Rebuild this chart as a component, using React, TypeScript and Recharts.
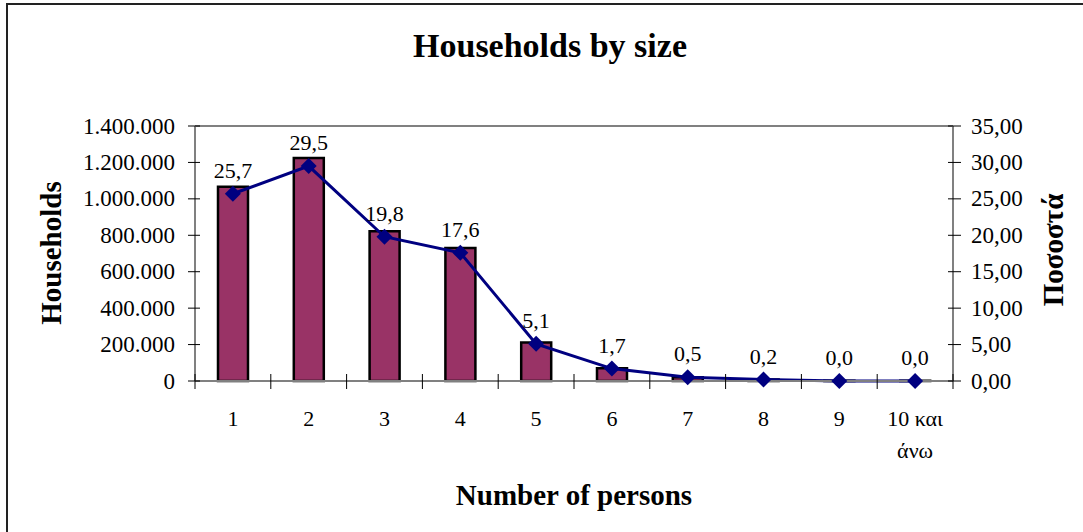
import React from 'react';
import { ComposedChart, Bar, Line, XAxis, YAxis, LabelList, ReferenceLine } from 'recharts';

const categories = ['1', '2', '3', '4', '5', '6', '7', '8', '9', '10 και άνω'];
const households = [1066000, 1224000, 822000, 730000, 212000, 70500, 20700, 8300, 1600, 900];
const percentages = [25.7, 29.5, 19.8, 17.6, 5.1, 1.7, 0.5, 0.2, 0.0, 0.0];
const leftTicks = [0, 200000, 400000, 600000, 800000, 1000000, 1200000, 1400000];
const rightTicks = [0, 5, 10, 15, 20, 25, 30, 35];

const data = categories.map((c, i) => ({ name: c, households: households[i], pct: percentages[i] }));

const W = 1083;
const H = 532;
const LEFT_W = 195;
const RIGHT_W = 130;
const TOP = 126;
const XAXIS_H = 151;
const CAT_W = (W - LEFT_W - RIGHT_W) / categories.length;
const FONT = '"Liberation Serif", "Times New Roman", serif';

const fmtThousands = (v: number) => String(v).replace(/\B(?=(\d{3})+(?!\d))/g, '.');
const fmtPct2 = (v: number) => v.toFixed(2).replace('.', ',');
const fmtPct1 = (v: number) => Number(v).toFixed(1).replace('.', ',');

const LeftTick = (props: any) => {
  const { x, y, payload } = props;
  return (
    <g>
      <line x1={x - 7} x2={x + 5} y1={y} y2={y} stroke="#000" strokeWidth={1} />
      <text x={x - 20} y={y} textAnchor="end" dominantBaseline="central" fontFamily={FONT} fontSize={23} fill="#000">
        {fmtThousands(payload.value)}
      </text>
    </g>
  );
};

const RightTick = (props: any) => {
  const { x, y, payload } = props;
  return (
    <g>
      <line x1={x - 5} x2={x + 8} y1={y} y2={y} stroke="#000" strokeWidth={1} />
      <text x={x + 18} y={y} textAnchor="start" dominantBaseline="central" fontFamily={FONT} fontSize={23} fill="#000">
        {fmtPct2(payload.value)}
      </text>
    </g>
  );
};

const XTick = (props: any) => {
  const { x, y, payload, index } = props;
  const label: string = payload.value;
  const parts = label.includes(' και ') ? [label.replace(' άνω', ''), 'άνω'] : [label];
  const half = CAT_W / 2;
  return (
    <g>
      <line x1={x - half} x2={x - half} y1={y - 7} y2={y + 8} stroke="#000" strokeWidth={1} />
      {index === categories.length - 1 && (
        <line x1={x + half} x2={x + half} y1={y - 7} y2={y + 8} stroke="#000" strokeWidth={1} />
      )}
      {parts.map((p, i) => (
        <text key={i} x={x} y={y + 45 + i * 32} textAnchor="middle" fontFamily={FONT} fontSize={22} fill="#000">
          {p}
        </text>
      ))}
    </g>
  );
};

const Diamond = (props: any) => {
  const { cx, cy } = props;
  if (cx == null || cy == null) return null;
  const r = 8;
  return <polygon points={`${cx},${cy - r} ${cx + r},${cy} ${cx},${cy + r} ${cx - r},${cy}`} fill="#000080" stroke="none" />;
};

export default function App() {
  return (
    <div style={{ position: 'absolute', left: 0, top: 0, width: W, height: H, background: '#fff', overflow: 'hidden' }}>
      <div
        style={{
          position: 'absolute',
          left: 6,
          top: 3,
          width: W,
          height: H,
          borderLeft: '2px solid #222',
          borderTop: '2px solid #222',
        }}
      />
      <div
        style={{
          position: 'absolute',
          left: 550,
          top: 46,
          transform: 'translate(-50%, -50%)',
          fontFamily: FONT,
          fontWeight: 'bold',
          fontSize: 34,
          lineHeight: 1,
          whiteSpace: 'nowrap',
        }}
      >
        Households by size
      </div>
      <div
        style={{
          position: 'absolute',
          left: 51,
          top: 253,
          transform: 'translate(-50%, -50%) rotate(-90deg)',
          fontFamily: FONT,
          fontWeight: 'bold',
          fontSize: 29,
          lineHeight: 1,
          whiteSpace: 'nowrap',
        }}
      >
        Households
      </div>
      <div
        style={{
          position: 'absolute',
          left: 1053,
          top: 250,
          transform: 'translate(-50%, -50%) rotate(-90deg)',
          fontFamily: FONT,
          fontWeight: 'bold',
          fontSize: 29,
          lineHeight: 1,
          whiteSpace: 'nowrap',
        }}
      >
        Ποσοστά
      </div>
      <div
        style={{
          position: 'absolute',
          left: 574,
          top: 495,
          transform: 'translate(-50%, -50%)',
          fontFamily: FONT,
          fontWeight: 'bold',
          fontSize: 29,
          lineHeight: 1,
          whiteSpace: 'nowrap',
        }}
      >
        Number of persons
      </div>
      <div style={{ position: 'absolute', left: 0, top: 0 }}>
        <ComposedChart width={W} height={H} data={data} margin={{ top: TOP, right: 0, bottom: 0, left: 0 }}>
          <XAxis
            dataKey="name"
            height={XAXIS_H}
            axisLine={{ stroke: '#808080', strokeWidth: 2 }}
            tickLine={false}
            tickSize={0}
            tickMargin={0}
            interval={0}
            tick={<XTick />}
          />
          <YAxis
            yAxisId="left"
            orientation="left"
            width={LEFT_W}
            domain={[0, 1400000]}
            ticks={leftTicks}
            interval={0}
            axisLine={{ stroke: '#808080', strokeWidth: 2 }}
            tickLine={false}
            tickSize={0}
            tickMargin={0}
            tick={<LeftTick />}
          />
          <YAxis
            yAxisId="right"
            orientation="right"
            width={RIGHT_W}
            domain={[0, 35]}
            ticks={rightTicks}
            interval={0}
            axisLine={{ stroke: '#808080', strokeWidth: 2 }}
            tickLine={false}
            tickSize={0}
            tickMargin={0}
            tick={<RightTick />}
          />
          <ReferenceLine yAxisId="left" y={1400000} stroke="#808080" strokeWidth={2} />
          <Bar
            yAxisId="left"
            dataKey="households"
            fill="#993366"
            stroke="#000"
            strokeWidth={2.5}
            barSize={30}
            isAnimationActive={false}
          />
          <Line
            yAxisId="right"
            dataKey="pct"
            stroke="#000080"
            strokeWidth={3}
            dot={<Diamond />}
            activeDot={false}
            isAnimationActive={false}
          >
            <LabelList
              dataKey="pct"
              position="top"
              offset={16}
              formatter={(v: any) => fmtPct1(v)}
              fontFamily={FONT}
              fontSize={22}
              fill="#000"
            />
          </Line>
        </ComposedChart>
      </div>
    </div>
  );
}
